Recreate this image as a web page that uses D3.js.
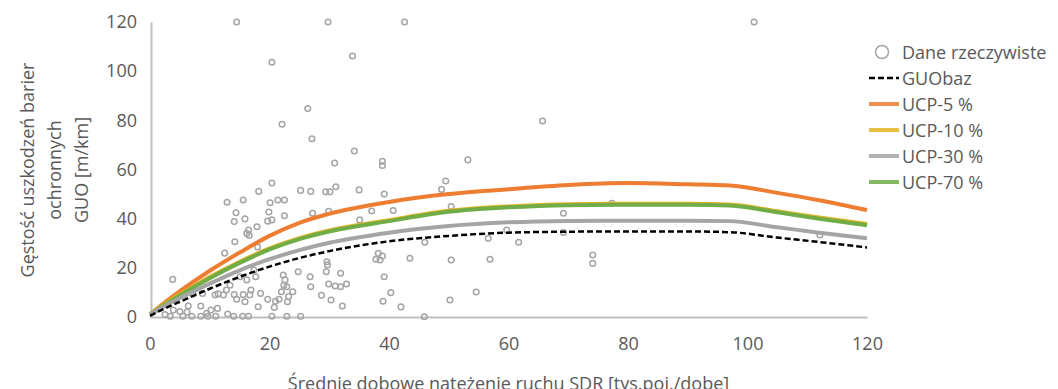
<!DOCTYPE html>
<html>
<head>
<meta charset="utf-8">
<script src="https://cdn.jsdelivr.net/npm/d3@7"></script>
<style>
  body { margin: 0; background: #fff; }
  text { font-family: "Open Sans", sans-serif; fill: #595959; }
</style>
</head>
<body>
<div id="chart"></div>
<script>
// x positions shared by the fitted curves
var curveX = [0, 2.5, 5, 10, 15, 20, 25, 30, 40, 50, 60, 70, 80, 90, 97, 105, 112, 120];

// fitted curves
var guoBaz = [0.5, 3.5, 6.2, 11.5, 16.3, 20.5, 24, 26.8, 30.8, 33, 34.3, 34.7, 34.8, 34.8, 34.5, 32.3, 30.5, 28.3];
var ucp5   = [1, 6, 10.5, 18.8, 26.2, 33, 38.3, 42, 46.8, 50, 52, 53.7, 54.5, 54, 53.5, 50.5, 47.5, 43.5];
var ucp10  = [1.2, 5.4, 9.2, 16.3, 22.5, 27.9, 32.1, 35.2, 39.4, 43.2, 45, 45.9, 46.1, 46.1, 45.8, 43, 40.5, 37.8];
var ucp30  = [1, 4.5, 7.7, 13.6, 19, 23.5, 27.2, 30.2, 34.3, 37, 38.5, 39.1, 39.2, 39.2, 39, 36.5, 34.3, 32];
var ucp70  = [1, 5, 8.8, 15.8, 22, 27.5, 31.7, 34.8, 39, 42.8, 44.6, 45.5, 45.7, 45.7, 45.4, 42.6, 40, 37.3];

// measured points "Dane rzeczywiste"
var obsX = [14.5, 29.8, 42.6, 101.1, 20.4, 33.9, 26.4, 22.1, 27.1, 34.2, 30.9, 38.9, 38.9, 53.2, 65.7,
  49.5, 20.4, 18.2, 25.2, 26.9, 29.4, 30.1, 31.1, 35, 39.2, 48.8, 12.9, 15.6, 20.1, 21.4, 22.5,
  14.4, 14.1, 15.9, 19.9, 20.4, 19.7, 22.5, 17.9, 16.5, 16.2, 16.6, 27.2, 29.9, 37.1, 40.7, 50.4,
  46, 56.6, 61.7, 59.7, 37.8, 38.2, 38.9, 38.5, 43.5, 50.4, 56.9, 54.6, 50.2, 42, 45.9, 39.2, 40.3,
  39, 32.2, 30.3, 28.7, 29.5, 29.7, 29.6, 31.9, 32.9, 31.9, 31, 29.9, 26.8, 26.9, 24.8, 22.3, 22.6,
  22.4, 22.9, 23.9, 23.2, 23, 22, 21.6, 21, 20.8, 19.7, 18.5, 18.1, 17.4, 17.7, 16.2, 15.1, 13.4,
  12.8, 14.1, 14.5, 15.6, 16.7, 15.9, 16.9, 12.3, 11.4, 10.9, 7.2, 8.8, 8.5, 10.2, 11.3, 3.8, 3.9,
  5, 6.4, 3.4, 5.5, 7, 8.5, 9.7, 11, 14, 15.5, 16.5, 20.4, 22.9, 25.2, 69.2, 69.2, 77.3, 74.1, 74.1,
  112.1, 35.1, 14.2, 12.5, 18, 9.5, 13, 6.2, 2.5];
var obsY = [120, 120, 120, 120, 103.6, 106.2, 84.8, 78.4, 72.5, 67.5, 62.6, 63.3, 61.6, 63.9, 79.7,
  55.3, 54.5, 51.1, 51.5, 51.1, 50.9, 50.9, 53, 51.7, 50, 51.9, 46.7, 47.6, 46.5, 47.6, 47.6,
  42.4, 38.8, 39.9, 42.7, 39.5, 39, 41.2, 36.7, 35.4, 34, 33.2, 42.2, 43, 43.1, 43.3, 44.9,
  30.4, 32, 30.4, 35.4, 23.5, 25.9, 24.8, 23.2, 23.9, 23.2, 23.5, 10.2, 6.9, 4.1, 0.1, 16.4, 9.9,
  6.4, 4.5, 6.9, 8.8, 18.4, 21.2, 22.5, 17.8, 13.4, 12.3, 12.6, 13.4, 16.4, 12.3, 18.4, 17.1, 15.1,
  12.9, 12.3, 10.3, 8.3, 6.2, 10.3, 7.2, 6.4, 3.9, 7.2, 9.6, 4.2, 19.1, 16.4, 15.1, 16.4, 12.9,
  11, 9.1, 7.2, 9.1, 9, 6.2, 11, 9, 9.4, 9, 9.4, 9.6, 4.5, 2.8, 3.5, 15.3, 2.8,
  2.2, 4.5, 0.3, 0.3, 0.3, 0.3, 0.3, 0.3, 0.3, 0.3, 0.3, 0.3, 0.3, 0.3, 42.2, 34.4, 46.3, 25.2, 21.8,
  33.4, 39.5, 30.6, 26, 28.5, 1.5, 1.2, 2, 1];

var yTicks = [0, 20, 40, 60, 80, 100, 120];
var xTicks = [0, 20, 40, 60, 80, 100, 120];

var seriesNames = ["GUObaz", "UCP-5 %", "UCP-10 %", "UCP-30 %", "UCP-70 %"];
var seriesColors = ["#000000", "#ED7D31", "#E3B324", "#A5A5A5", "#70AD47"];
var seriesValues = [guoBaz, ucp5, ucp10, ucp30, ucp70];

var width = 1058, height = 389;
var margin = {top: 22, right: 191, bottom: 72, left: 150};
var fontSize = "18px";

var svg = d3.select("#chart").append("svg")
    .attr("width", width)
    .attr("height", height);

var xScale = d3.scaleLinear()
    .domain([0, 120])
    .range([margin.left, width - margin.right]);

var yScale = d3.scaleLinear()
    .domain([0, 120])
    .range([height - margin.bottom, margin.top]);

//axes: no tick marks, only light gray domain lines
var xAxis = svg.append("g")
    .attr("transform", "translate(0," + yScale(0) + ")")
    .call(d3.axisBottom(xScale).tickValues(xTicks).tickSize(0).tickPadding(20));

var yAxis = svg.append("g")
    .attr("transform", "translate(" + (xScale(0) + 1) + ",0)")
    .call(d3.axisLeft(yScale).tickValues(yTicks).tickSize(0).tickPadding(14));

[xAxis, yAxis].forEach(function(ax){
  ax.select(".domain").attr("stroke", "#BFBFBF").attr("stroke-width", 2);
  ax.selectAll("text")
    .style("font-family", "Open Sans, sans-serif")
    .style("font-size", fontSize)
    .attr("fill", "#595959");
});

//scatter of measured data
var points = d3.range(obsX.length).map(function(i){ return [obsX[i], obsY[i]]; });
svg.append("g").selectAll("circle")
    .data(points)
    .enter()
    .append("circle")
    .attr("cx", function(d){ return xScale(d[0]); })
    .attr("cy", function(d){ return yScale(d[1]); })
    .attr("r", 2.8)
    .attr("fill", "none")
    .attr("stroke", "#A5A5A5")
    .attr("stroke-width", 1.5);

//curves, drawn in order so green sits on top of yellow
var line = d3.line()
    .x(function(d){ return xScale(d[0]); })
    .y(function(d){ return yScale(d[1]); })
    .curve(d3.curveMonotoneX);

var drawOrder = [1, 2, 4, 3, 0];
drawOrder.forEach(function(k){
  var data = curveX.map(function(x, i){ return [x, seriesValues[k][i]]; });
  svg.append("path")
    .datum(data)
    .attr("d", line)
    .attr("fill", "none")
    .attr("stroke", seriesColors[k])
    .attr("stroke-width", k == 0 ? 2.5 : 4)
    .attr("stroke-dasharray", k == 0 ? "6,3" : null);
});

//legend
var legend = svg.append("g").attr("transform", "translate(869,52)");
legend.append("circle")
    .attr("cx", 13)
    .attr("cy", 0)
    .attr("r", 6.5)
    .attr("fill", "none")
    .attr("stroke", "#A5A5A5")
    .attr("stroke-width", 1.5);
legend.append("text")
    .attr("x", 33)
    .attr("y", 6.5)
    .style("font-size", fontSize)
    .text("Dane rzeczywiste");

seriesNames.forEach(function(name, i){
  var yy = 26 * (i + 1);
  legend.append("line")
    .attr("x1", 0).attr("x2", 30)
    .attr("y1", yy).attr("y2", yy)
    .attr("stroke", seriesColors[i])
    .attr("stroke-width", i == 0 ? 2.5 : 4)
    .attr("stroke-dasharray", i == 0 ? "6,3" : null)
    .attr("opacity", i == 0 ? 1 : 0.85);
  legend.append("text")
    .attr("x", 33)
    .attr("y", yy + 6.5)
    .style("font-size", fontSize)
    .text(name);
});

//axis titles
var yTitle = svg.append("text")
    .attr("transform", "translate(34,170) rotate(-90)")
    .attr("text-anchor", "middle")
    .style("font-size", fontSize);
["Gęstość uszkodzeń barier", "ochronnych", "GUO [m/km]"].forEach(function(t, i){
  yTitle.append("tspan")
    .attr("x", 0)
    .attr("dy", i == 0 ? 0 : 27)
    .text(t);
});

svg.append("text")
    .attr("x", (xScale(0) + xScale(120)) / 2)
    .attr("y", 390)
    .attr("text-anchor", "middle")
    .style("font-size", fontSize)
    .text("Średnie dobowe natężenie ruchu SDR [tys.poj./dobę]");
</script>
</body>
</html>
